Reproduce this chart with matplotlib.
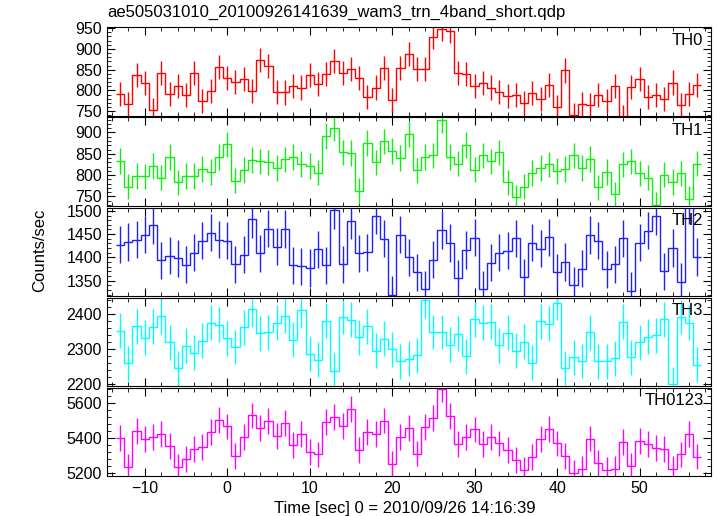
import numpy as np
import matplotlib.pyplot as plt
from matplotlib.ticker import MultipleLocator

plt.rcParams['font.family'] = ['Liberation Sans', 'DejaVu Sans']
plt.rcParams['font.size'] = 11

# bin centres (1 s bins)
time = list(range(-13, 58))

th0 = [792, 768, 838, 817, 752, 843, 792, 811, 788, 841, 775, 799, 856,
       829, 820, 828, 799, 873, 859, 797, 795, 810, 807, 838, 816, 840,
       871, 843, 852, 829, 783, 807, 853, 778, 853, 888, 852, 852, 928,
       947, 943, 843, 840, 811, 818, 807, 797, 787, 789, 770, 793, 779,
       814, 761, 848, 740, 768, 765, 789, 775, 810, 737, 808, 828, 783,
       789, 780, 819, 765, 792, 813]
th1 = [833, 773, 798, 797, 821, 794, 843, 783, 798, 798, 815, 807, 843,
       872, 787, 812, 836, 832, 830, 817, 837, 843, 826, 822, 806, 892,
       911, 853, 852, 763, 875, 830, 879, 856, 840, 896, 811, 843, 846,
       929, 842, 827, 871, 813, 846, 832, 853, 783, 748, 773, 805, 817,
       825, 809, 815, 846, 817, 838, 771, 807, 755, 825, 832, 804, 794,
       731, 801, 784, 804, 745, 827]
th2 = [1427, 1433, 1438, 1449, 1469, 1394, 1404, 1398, 1384, 1410, 1436,
       1453, 1438, 1436, 1385, 1406, 1482, 1409, 1462, 1423, 1461, 1383,
       1381, 1377, 1417, 1383, 1502, 1385, 1479, 1409, 1411, 1490, 1440,
       1320, 1449, 1400, 1368, 1331, 1395, 1459, 1431, 1355, 1416, 1442,
       1331, 1389, 1410, 1414, 1441, 1357, 1432, 1419, 1443, 1368, 1390,
       1340, 1376, 1448, 1436, 1374, 1385, 1441, 1328, 1432, 1457, 1488,
       1370, 1420, 1347, 1512, 1401]
th3 = [2352, 2260, 2366, 2333, 2364, 2394, 2319, 2246, 2310, 2289, 2324,
       2376, 2370, 2331, 2306, 2362, 2414, 2345, 2348, 2375, 2396, 2327,
       2411, 2286, 2269, 2381, 2238, 2392, 2384, 2334, 2366, 2296, 2330,
       2299, 2265, 2273, 2282, 2440, 2349, 2349, 2313, 2344, 2279, 2385,
       2375, 2378, 2311, 2347, 2296, 2321, 2261, 2380, 2372, 2433, 2246,
       2276, 2266, 2348, 2265, 2265, 2274, 2378, 2276, 2319, 2335, 2339,
       2386, 2200, 2392, 2375, 2255]
th0123 = [5404, 5234, 5440, 5396, 5406, 5425, 5358, 5238, 5280, 5338, 5350,
          5435, 5507, 5468, 5298, 5408, 5531, 5459, 5499, 5412, 5489, 5363,
          5425, 5323, 5308, 5496, 5522, 5473, 5567, 5335, 5435, 5423, 5502,
          5253, 5407, 5457, 5313, 5466, 5518, 5684, 5529, 5369, 5406, 5451,
          5370, 5406, 5371, 5331, 5274, 5221, 5291, 5395, 5454, 5371, 5299,
          5202, 5227, 5399, 5261, 5221, 5224, 5381, 5244, 5383, 5369, 5347,
          5337, 5223, 5308, 5424, 5296]

# one error size per band
errs = [29, 30, 40, 50, 74]
names = ['TH0', 'TH1', 'TH2', 'TH3', 'TH0123']
colors = ['#ff0000', '#11ee11', '#2020ff', '#00ffff', '#ff00ff']
ylims = [(739, 952), (728, 935), (1317, 1507), (2194, 2447), (5183, 5689)]
yticks = [[750, 800, 850, 900, 950], [750, 800, 850, 900],
          [1350, 1400, 1450, 1500], [2200, 2300, 2400], [5200, 5400, 5600]]
yminor = [10, 10, 10, 20, 40]

series = [th0, th1, th2, th3, th0123]

fig = plt.figure(figsize=(7.17, 5.16), dpi=100)
axes = fig.subplots(5, 1, sharex=True)
fig.subplots_adjust(left=0.149, right=0.992, top=0.947, bottom=0.077, hspace=0.02)

t = np.array(time)
edges = np.append(t - 0.5, t[-1] + 0.5)

for i, ax in enumerate(axes):
    v = np.array(series[i])
    ax.stairs(v, edges, baseline=None, color=colors[i], lw=1.0)
    ax.errorbar(t, v, yerr=errs[i], fmt='none', ecolor=colors[i], elinewidth=1.0, capsize=0)
    ax.set_xlim(-14.6, 58.7)
    ax.set_ylim(*ylims[i])
    ax.set_yticks(yticks[i])
    ax.yaxis.set_minor_locator(MultipleLocator(yminor[i]))
    ax.xaxis.set_major_locator(MultipleLocator(10))
    ax.xaxis.set_minor_locator(MultipleLocator(2))
    ax.tick_params(which='both', direction='in', top=True, right=True, labelsize=11.5)
    ax.tick_params(which='major', length=6)
    ax.tick_params(which='minor', length=3)
    ax.text(0.987, 0.94, names[i], transform=ax.transAxes, ha='right', va='top', fontsize=12)
    if i < 4:
        ax.tick_params(labelbottom=False)

fig.text(107 / 717, 1 - 12 / 516, 'ae505031010_20100926141639_wam3_trn_4band_short.qdp',
         ha='left', va='center', fontsize=12)
fig.text(40 / 717, 1 - 250 / 516, 'Counts/sec', rotation=90, ha='center', va='center', fontsize=12)
fig.text(405 / 717, 1 - 508 / 516, 'Time [sec] 0 = 2010/09/26 14:16:39',
         ha='center', va='center', fontsize=12)

fig.savefig('out.png', dpi=100)
